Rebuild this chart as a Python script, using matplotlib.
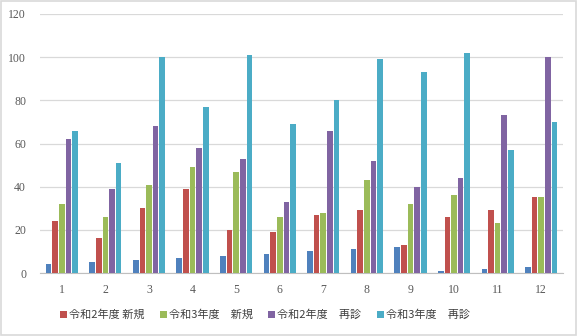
import matplotlib.pyplot as plt
import matplotlib.patches as mpatches
import numpy as np

months = [str(m) for m in range(1, 13)]

# calendar month number of each fiscal month (no legend entry)
month_no = [4, 5, 6, 7, 8, 9, 10, 11, 12, 1, 2, 3]
r2_new = [24, 16, 30, 39, 20, 19, 27, 29, 13, 26, 29, 35]
r3_new = [32, 26, 41, 49, 47, 26, 28, 43, 32, 36, 23, 35]
r2_revisit = [62, 39, 68, 58, 53, 33, 66, 52, 40, 44, 73, 100]
r3_revisit = [66, 51, 100, 77, 101, 69, 80, 99, 93, 102, 57, 70]

series = [
    (month_no, "_nolegend_", "#4f81bd"),
    (r2_new, "令和2年度 新規", "#c0504d"),
    (r3_new, "令和3年度　新規", "#9bbb59"),
    (r2_revisit, "令和2年度　再診", "#8064a2"),
    (r3_revisit, "令和3年度　再診", "#4bacc6"),
]

plt.rcParams["font.family"] = ["Noto Sans CJK JP", "DejaVu Sans"]

fig = plt.figure(figsize=(5.77, 3.36), dpi=100)
ax = fig.add_axes([40 / 577, 1 - 273 / 336, 523 / 577, 259 / 336])

x = np.arange(len(months))
slot = 0.152
width = 0.13
for i, (vals, label, color) in enumerate(series):
    ax.bar(x + (i - 2) * slot, vals, width=width, color=color, label=label, zorder=3)

ax.set_xlim(-0.5, 11.5)
ax.set_ylim(0, 120)
ax.set_yticks(range(0, 121, 20))
ax.set_xticks(x)
ax.set_xticklabels(months)
ax.grid(axis="y", color="#d9d9d9", lw=0.9, zorder=0)
for s in ["top", "right", "left"]:
    ax.spines[s].set_visible(False)
ax.spines["bottom"].set_color("#bfbfbf")
ax.tick_params(length=0, colors="#595959", labelsize=8.5, pad=8)
for lab in ax.get_xticklabels() + ax.get_yticklabels():
    lab.set_family("Liberation Serif")
ax.tick_params(axis="y", pad=10)

handles, labels = ax.get_legend_handles_labels()
fig.legend(
    handles,
    labels,
    loc="center",
    bbox_to_anchor=(265 / 577, 1 - 315 / 336),
    ncol=4,
    frameon=False,
    fontsize=8,
    handlelength=0.6,
    handleheight=0.6,
    handletextpad=0.2,
    columnspacing=1.4,
    labelcolor="#404040",
)

fig.patches.append(
    mpatches.Rectangle(
        (0.001, 0.002), 0.997, 0.995, transform=fig.transFigure,
        fill=False, edgecolor="#d9d9d9", lw=1.2,
    )
)

fig.savefig("out.png", dpi=100)
